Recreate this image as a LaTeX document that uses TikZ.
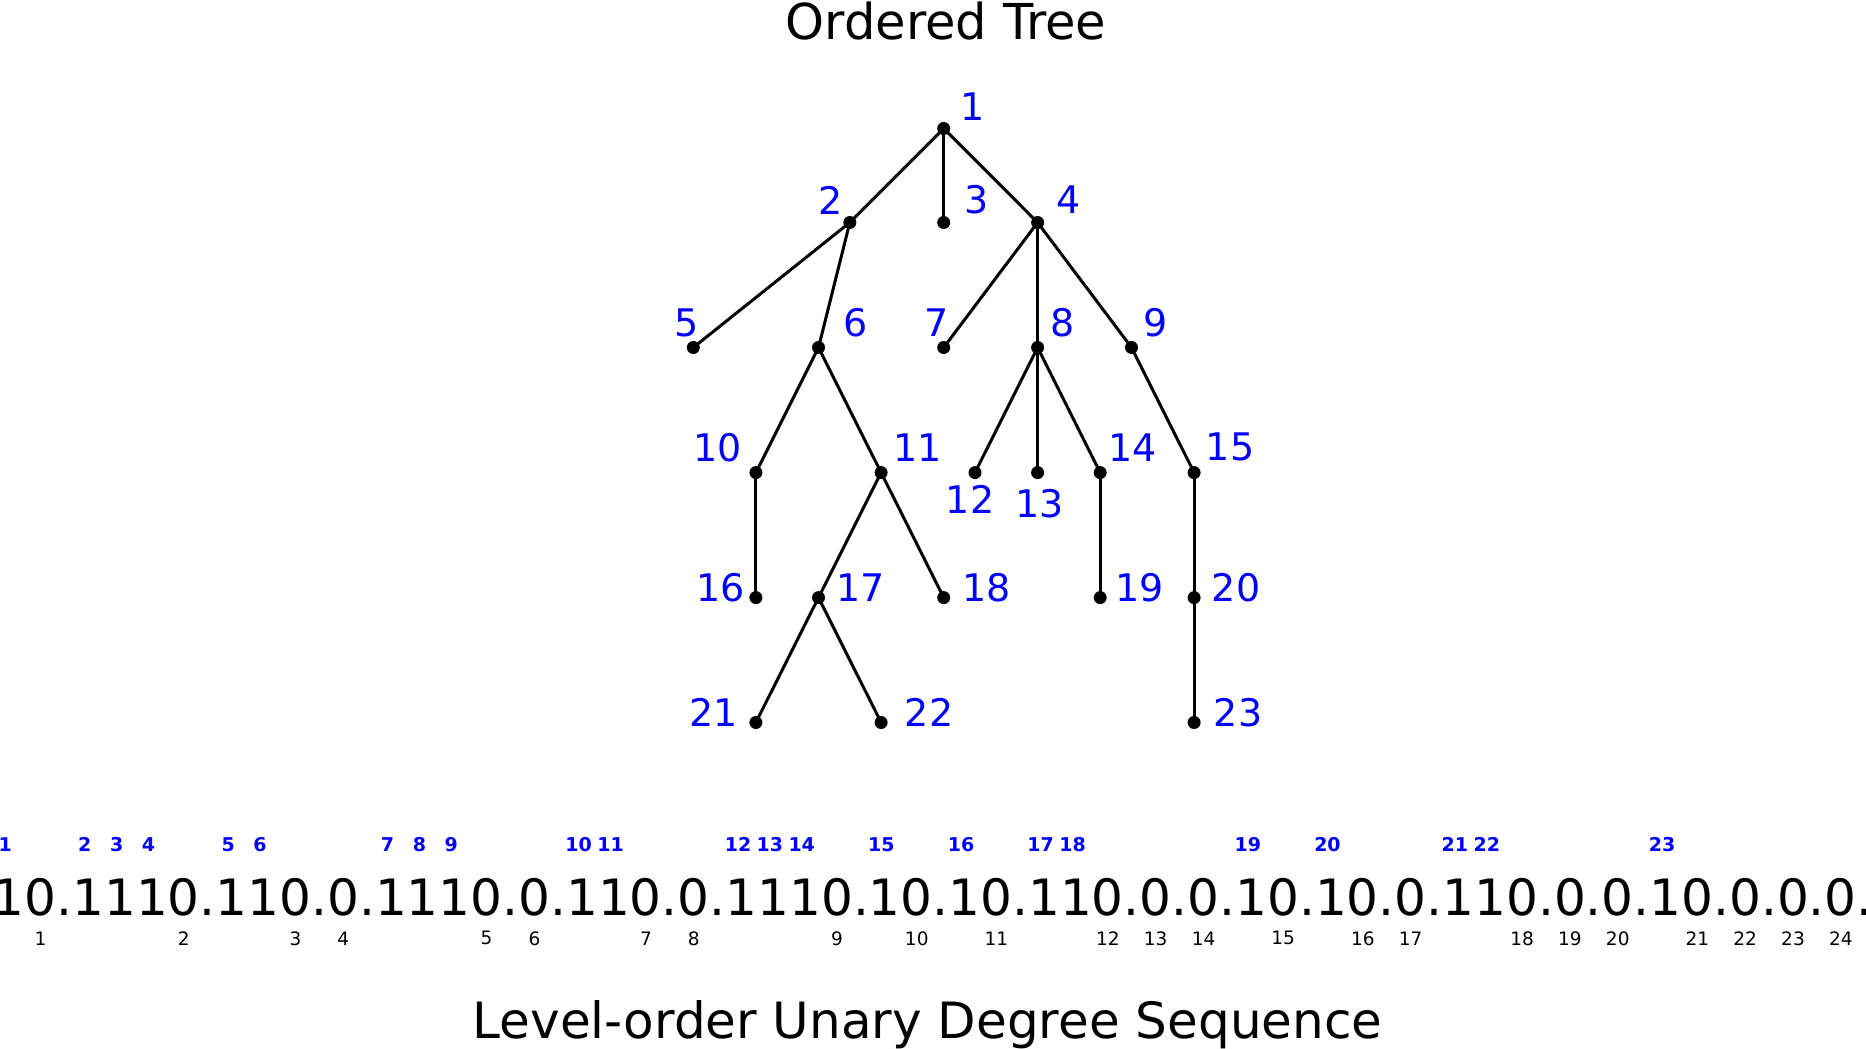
\documentclass[tikz,border=0pt]{standalone}
\usepackage{fontspec}
\setmainfont{DejaVu Sans}
\usetikzlibrary{calc}
\definecolor{lblblue}{RGB}{0,0,255}
\begin{document}
\begin{tikzpicture}[x=1pt,y=-1pt,
  dot/.style={circle,fill=black,inner sep=0pt,minimum size=13pt},
  edge/.style={line width=3pt},
  tlab/.style={text=lblblue,font=\fontsize{38}{42}\selectfont,inner sep=0pt},
  bigc/.style={font=\fontsize{50.1}{60}\selectfont,inner sep=0pt,anchor=base},
  onelab/.style={text=lblblue,font=\bfseries\fontsize{19}{22}\selectfont,inner sep=0pt},
  zerolab/.style={font=\fontsize{18.5}{22}\selectfont,inner sep=0pt},
  ttl/.style={inner sep=0pt,anchor=base}]
\useasboundingbox (0,0) rectangle (1866,1049);
\def\cx{943.7}\def\u{62.6}
% tree nodes
\node[dot] (n1) at (\cx,128.5) {};
\node[dot] (n2) at ({\cx-1.5*\u},222.5) {};
\node[dot] (n3) at (\cx,222.5) {};
\node[dot] (n4) at ({\cx+1.5*\u},222.5) {};
\node[dot] (n5) at ({\cx-4*\u},347.5) {};
\node[dot] (n6) at ({\cx-2*\u},347.5) {};
\node[dot] (n7) at (\cx,347.5) {};
\node[dot] (n8) at ({\cx+1.5*\u},347.5) {};
\node[dot] (n9) at ({\cx+3*\u},347.5) {};
\node[dot] (n10) at ({\cx-3*\u},472.6) {};
\node[dot] (n11) at ({\cx-1*\u},472.6) {};
\node[dot] (n12) at ({\cx+0.5*\u},472.6) {};
\node[dot] (n13) at ({\cx+1.5*\u},472.6) {};
\node[dot] (n14) at ({\cx+2.5*\u},472.6) {};
\node[dot] (n15) at ({\cx+4*\u},472.6) {};
\node[dot] (n16) at ({\cx-3*\u},597.6) {};
\node[dot] (n17) at ({\cx-2*\u},597.6) {};
\node[dot] (n18) at (\cx,597.6) {};
\node[dot] (n19) at ({\cx+2.5*\u},597.6) {};
\node[dot] (n20) at ({\cx+4*\u},597.6) {};
\node[dot] (n21) at ({\cx-3*\u},722.5) {};
\node[dot] (n22) at ({\cx-1*\u},722.5) {};
\node[dot] (n23) at ({\cx+4*\u},722.5) {};
% edges
\foreach \a/\b in {1/2,1/3,1/4,2/5,2/6,4/7,4/8,4/9,6/10,6/11,8/12,8/13,8/14,9/15,10/16,11/17,11/18,14/19,15/20,17/21,17/22,20/23}
  \draw[edge] (n\a.center) -- (n\b.center);
% tree labels
\foreach \k/\dx/\dy in {1/28.6/-21.4,2/-19/-22.6,3/33.3/-22.6,4/31/-22.6,5/-7/-25,6/37/-25,7/-7/-25,8/25/-25,9/24/-25,10/-38/-25.4,11/36.6/-25.4,12/-5/27,13/2/31,14/32/-25.4,15/36/-25.4,16/-35.3/-10,17/42.4/-10,18/43/-10,19/39/-10,20/42/-10,21/-42/-10,22/48/-10,23/44/-10}
  \node[tlab] (l\k) at ($(n\k)+(\dx,\dy)$) {\k};
% titles
\node[ttl,font=\fontsize{49.5}{56}\selectfont] (title) at (946,39.5) {Ordered Tree};
\node[ttl,font=\fontsize{50}{58}\selectfont] (subtitle) at (927.6,1038) {Level-order Unary Degree Sequence};
% sequence
\def\pchar{p}\def\onechar{1}\def\zerochar{0}
\gdef\curx{-7.3}\gdef\nones{0}\gdef\nzeros{0}
\foreach \c [count=\i] in {1,0,p,1,1,1,0,p,1,1,0,p,0,p,1,1,1,0,p,0,p,1,1,0,p,0,p,1,1,1,0,p,1,0,p,1,0,p,1,1,0,p,0,p,0,p,1,0,p,1,0,p,0,p,1,1,0,p,0,p,0,p,1,0,p,0,p,0,p,0,p} {
  \ifx\c\pchar\def\w{0.318}\def\ch{.}\else\def\w{0.636}\let\ch\c\fi
  \pgfmathsetmacro\xc{\curx+\w*50.1/2}
  \node[bigc] (c\i) at (\xc,915) {\ch};
  \ifx\c\onechar
    \pgfmathtruncatemacro\k{\nones+1}\xdef\nones{\k}
    \pgfmathsetmacro\xo{\xc-3.5}
    \node[onelab] (o\k) at (\xo,844.3) {\k};
  \fi
  \ifx\c\zerochar
    \pgfmathtruncatemacro\k{\nzeros+1}\xdef\nzeros{\k}
    \node[zerolab] (z\k) at (\xc,938.3) {\k};
  \fi
  \pgfmathsetmacro\nx{\curx+\w*50.1}\xdef\curx{\nx}
}
\end{tikzpicture}
\end{document}
